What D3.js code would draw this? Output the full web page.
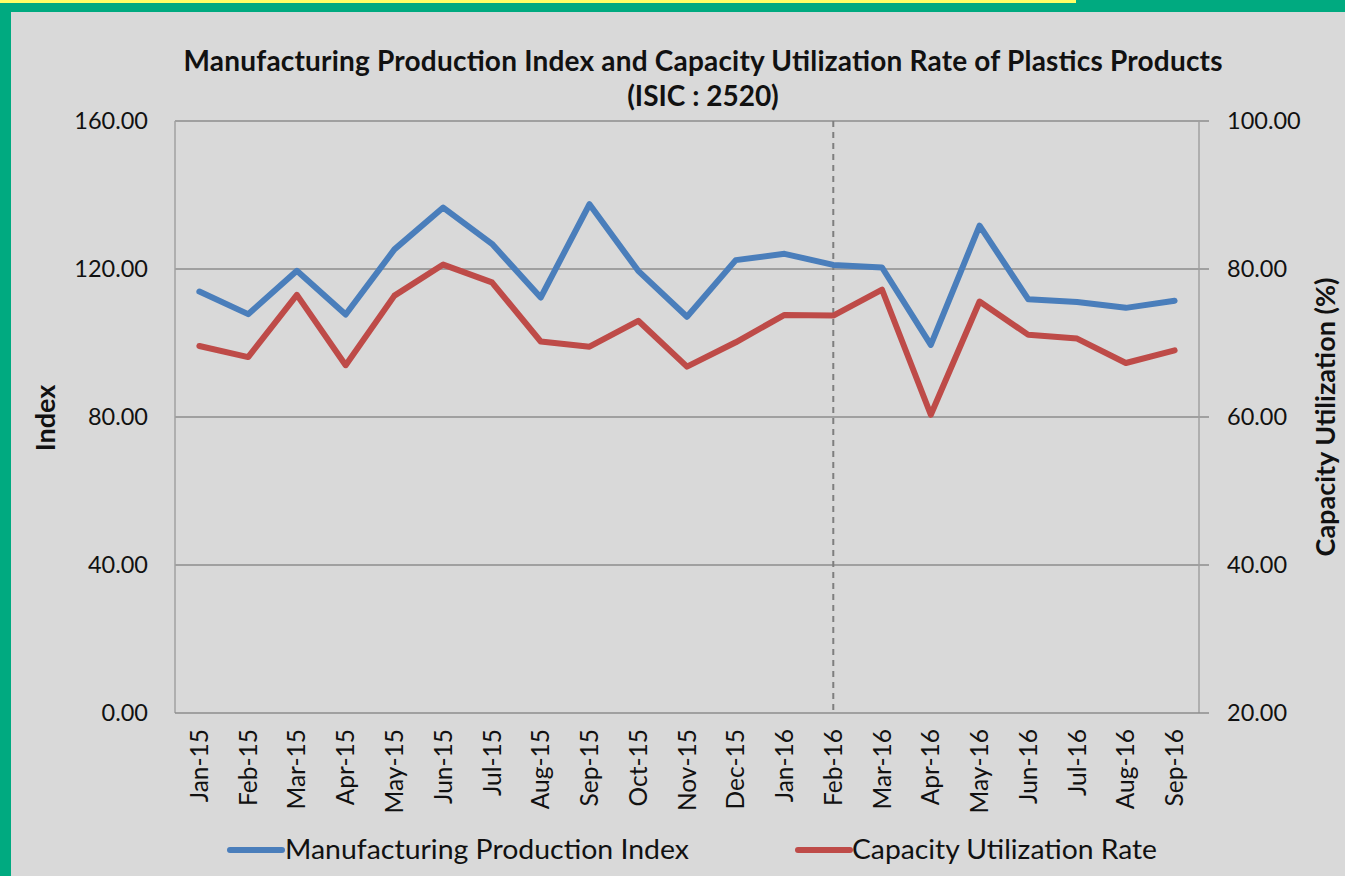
<!DOCTYPE html>
<html>
<head>
<meta charset="utf-8">
<script src="https://cdn.jsdelivr.net/npm/d3@7"></script>
<style>
html,body{margin:0;padding:0;background:#d9d9d9;}
svg{display:block;}
</style>
</head>
<body>
<svg id="chart" width="1345" height="876"></svg>
<script>
const months = ["Jan-15","Feb-15","Mar-15","Apr-15","May-15","Jun-15","Jul-15","Aug-15","Sep-15","Oct-15","Nov-15","Dec-15",
                "Jan-16","Feb-16","Mar-16","Apr-16","May-16","Jun-16","Jul-16","Aug-16","Sep-16"];
const productionIndex = [113.9,107.8,119.5,107.7,125.3,136.6,126.8,112.3,137.5,119.5,107.1,122.4,
                         124.1,121.1,120.4,99.5,131.7,111.8,111.1,109.5,111.4];
const capacityUtilization = [69.6,68.1,76.5,67.0,76.4,80.6,78.2,70.2,69.5,73.0,66.8,70.1,
                             73.8,73.7,77.2,60.3,75.6,71.1,70.6,67.3,69.0];
const leftTicks = [0,40,80,120,160];
const rightTicks = [20,40,60,80,100];
const markerMonth = "Feb-16";
const seriesNames = ["Manufacturing Production Index","Capacity Utilization Rate"];
const colors = ["#4a7ebb","#be4b48"];

const svg = d3.select("#chart");
const W = 1345, H = 876;
const m = {left:175, right:1199, top:121, bottom:713};

// frame
svg.append("rect").attr("x",0).attr("y",0).attr("width",W).attr("height",H).attr("fill","#d9d9d9");
svg.append("rect").attr("x",0).attr("y",0).attr("width",W).attr("height",12).attr("fill","#00aa80");
svg.append("rect").attr("x",0).attr("y",0).attr("width",11).attr("height",H).attr("fill","#00aa80");
svg.append("rect").attr("x",0).attr("y",0).attr("width",1076).attr("height",3).attr("fill","#ffff66");

const x = d3.scaleBand().domain(months).range([m.left,m.right]);
const cx = d => x(d) + x.bandwidth()/2;
const yL = d3.scaleLinear().domain([0,160]).range([m.bottom,m.top]);
const yR = d3.scaleLinear().domain([20,100]).range([m.bottom,m.top]);

// gridlines
svg.append("g").selectAll("line").data(leftTicks.filter(d=>d>0)).join("line")
  .attr("x1",m.left).attr("x2",m.right+10)
  .attr("y1",d=>yL(d)).attr("y2",d=>yL(d))
  .attr("stroke","#8c8c8c").attr("stroke-width",1.5);

// axes lines
svg.append("line").attr("x1",m.left).attr("x2",m.left).attr("y1",m.top).attr("y2",m.bottom)
  .attr("stroke","#a0a0a0").attr("stroke-width",1.5);
svg.append("line").attr("x1",m.right).attr("x2",m.right).attr("y1",m.top).attr("y2",m.bottom)
  .attr("stroke","#a0a0a0").attr("stroke-width",1.5);
svg.append("line").attr("x1",m.left).attr("x2",m.right+10).attr("y1",m.bottom).attr("y2",m.bottom)
  .attr("stroke","#8c8c8c").attr("stroke-width",1.5);
svg.append("line").attr("x1",m.right).attr("x2",m.right+10).attr("y1",m.top).attr("y2",m.top)
  .attr("stroke","#a0a0a0").attr("stroke-width",1.5);

const font = "Lato, 'Open Sans', sans-serif";

// left tick labels
svg.append("g").selectAll("text").data(leftTicks).join("text")
  .attr("x",148).attr("y",d=>yL(d)).attr("dy","0.35em")
  .attr("text-anchor","end").attr("font-family",font).attr("font-size",23.5).attr("fill","#111")
  .text(d=>d3.format(".2f")(d));
// right tick labels
svg.append("g").selectAll("text").data(rightTicks).join("text")
  .attr("x",1227).attr("y",d=>yR(d)).attr("dy","0.35em")
  .attr("text-anchor","start").attr("font-family",font).attr("font-size",23.5).attr("fill","#111")
  .text(d=>d3.format(".2f")(d));

// x labels
svg.append("g").selectAll("text").data(months).join("text")
  .attr("transform",d=>`translate(${cx(d)},729) rotate(-90)`)
  .attr("text-anchor","end").attr("dy","0.35em")
  .attr("font-family",font).attr("font-size",24.5).attr("fill","#111")
  .text(d=>d);

// dashed marker line
svg.append("line")
  .attr("x1",cx(markerMonth)).attr("x2",cx(markerMonth))
  .attr("y1",m.top).attr("y2",m.bottom)
  .attr("stroke","#7f7f7f").attr("stroke-width",2).attr("stroke-dasharray","6,5");

// lines
const lineL = d3.line().x((d,i)=>cx(months[i])).y(d=>yL(d));
const lineR = d3.line().x((d,i)=>cx(months[i])).y(d=>yR(d));
svg.append("path").datum(productionIndex).attr("d",lineL).attr("fill","none")
  .attr("stroke",colors[0]).attr("stroke-width",6).attr("stroke-linejoin","round").attr("stroke-linecap","round");
svg.append("path").datum(capacityUtilization).attr("d",lineR).attr("fill","none")
  .attr("stroke",colors[1]).attr("stroke-width",6).attr("stroke-linejoin","round").attr("stroke-linecap","round");

// title
svg.append("text").attr("x",703).attr("y",71).attr("text-anchor","middle")
  .attr("font-family",font).attr("font-weight","bold").attr("font-size",28).attr("fill","#111")
  .attr("textLength",1039).attr("lengthAdjust","spacing")
  .text("Manufacturing Production Index and Capacity Utilization Rate of Plastics Products");
svg.append("text").attr("x",703).attr("y",106).attr("text-anchor","middle")
  .attr("font-family",font).attr("font-weight","bold").attr("font-size",28).attr("fill","#111")
  .text("(ISIC : 2520)");

// axis titles
svg.append("text").attr("transform","translate(55,418) rotate(-90)").attr("text-anchor","middle")
  .attr("font-family",font).attr("font-weight","bold").attr("font-size",27).attr("fill","#111")
  .text("Index");
svg.append("text").attr("transform","translate(1335,417) rotate(-90)").attr("text-anchor","middle")
  .attr("font-family",font).attr("font-weight","bold").attr("font-size",27).attr("fill","#111")
  .text("Capacity Utilization (%)");

// legend
const legend = [
  {name:seriesNames[0], color:colors[0], x1:230, x2:282, tx:285, tl:404},
  {name:seriesNames[1], color:colors[1], x1:798, x2:850, tx:852, tl:305}
];
const lg = svg.append("g").selectAll("g").data(legend).join("g");
lg.append("line").attr("x1",d=>d.x1).attr("x2",d=>d.x2).attr("y1",850).attr("y2",850)
  .attr("stroke",d=>d.color).attr("stroke-width",6).attr("stroke-linecap","round");
lg.append("text").attr("x",d=>d.tx).attr("y",859)
  .attr("font-family",font).attr("font-size",26).attr("fill","#111")
  .attr("textLength",d=>d.tl).attr("lengthAdjust","spacingAndGlyphs")
  .text(d=>d.name);
</script>
</body>
</html>
